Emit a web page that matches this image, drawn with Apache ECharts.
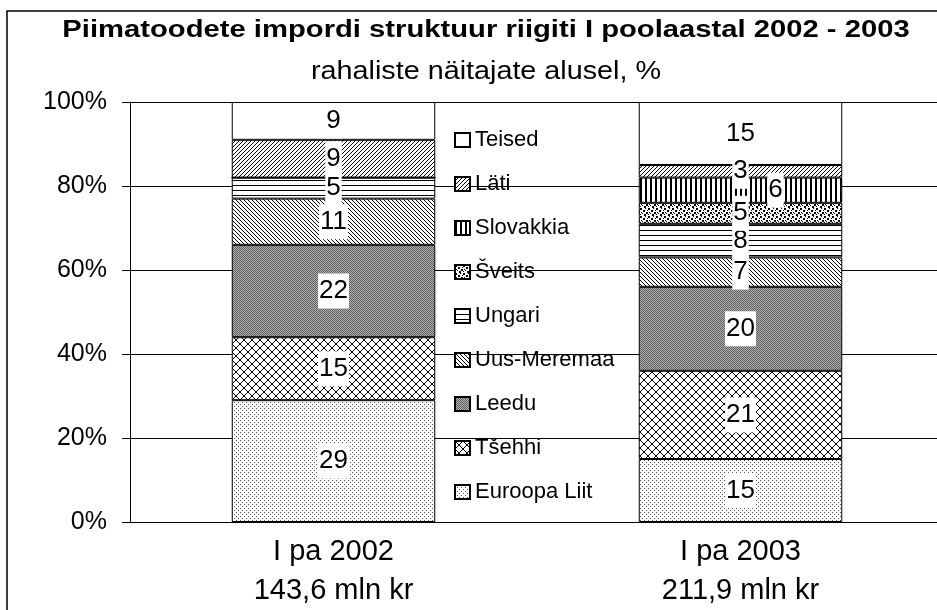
<!DOCTYPE html>
<html><head><meta charset="utf-8">
<script src="https://cdn.jsdelivr.net/npm/echarts@6/dist/echarts.min.js"></script>
<style>html,body{margin:0;padding:0;background:#fff}#c{width:937px;height:610px}</style>
</head><body><div id="c"></div>
<script>
// ---- data ----
const categories = ['I pa 2002', 'I pa 2003'];
const totals = ['143,6 mln kr', '211,9 mln kr'];
const seriesNames = ['Euroopa Liit', 'Tšehhi', 'Leedu', 'Uus-Meremaa', 'Ungari', 'Šveits', 'Slovakkia', 'Läti', 'Teised'];
const euroopaLiit = [29, 15];
const tsehhi = [15, 21];
const leedu = [22, 20];
const uusMeremaa = [11, 7];
const ungari = [5, 8];
const sveits = [0, 5];
const slovakkia = [0, 6];
const lati = [9, 3];
const teised = [9, 15];
const seriesValues = [euroopaLiit, tsehhi, leedu, uusMeremaa, ungari, sveits, slovakkia, lati, teised];
const titleText = 'Piimatoodete impordi struktuur riigiti I poolaastal 2002 - 2003';
const subtitleText = 'rahaliste näitajate alusel, %';

// ---- styles ----
const FONT = '"Liberation Sans", Arial, sans-serif';
function bitmap(rows, palette) {
  const c = document.createElement('canvas');
  c.width = rows[0].length; c.height = rows.length;
  const ctx = c.getContext('2d');
  for (let y = 0; y < rows.length; y++) {
    for (let x = 0; x < rows[y].length; x++) {
      ctx.fillStyle = palette[rows[y][x]];
      ctx.fillRect(x, y, 1, 1);
    }
  }
  return { image: c, repeat: 'repeat' };
}
const BW = { '0': '#ffffff', '1': '#000000', '2': '#888888', 'a': '#606060', 'b': '#b0b0b0', 'd': '#555555' };
const patterns = {
  'Euroopa Liit': bitmap(['d000', '0000', '00d0', '0000'], BW),
  'Tšehhi': bitmap(['10000001', '01000010', '00100100', '00011000', '00011000', '00100100', '01000010', '10000001'], BW),
  'Leedu': bitmap(['ab', 'ba'], BW),
  'Uus-Meremaa': bitmap(['1000', '0100', '0010', '0001'], BW),
  'Ungari': bitmap(['1111', '0000', '0000', '0000', '0000'], BW),
  'Šveits': bitmap(['11000100', '11000000', '00011001', '00011000', '01000011', '00100011', '10001100', '00001100'], BW),
  'Slovakkia': bitmap(['11000'], BW),
  'Läti': bitmap(['0001', '0010', '0100', '1000'], BW),
  'Teised': '#ffffff'
};
const labelOffsets = { 'Slovakkia': { 1: [35, 0] } };

const series = seriesNames.map((name, si) => ({
  name: name,
  type: 'bar',
  stack: 'total',
  barWidth: '50%',
  itemStyle: { color: patterns[name], borderColor: '#000', borderWidth: 1 },
  label: {
    show: true, position: 'inside', color: '#000', fontSize: 26, fontFamily: FONT,
    backgroundColor: '#fff', padding: [5, 1], lineHeight: 25
  },
  data: seriesValues[si].map((v, ci) => {
    const item = { value: v };
    const off = labelOffsets[name] && labelOffsets[name][ci];
    item.label = { show: v > 0 };
    if (off) item.label.offset = off;
    return item;
  })
}));

const chart = echarts.init(document.getElementById('c'), null, { renderer: 'canvas' });
chart.setOption({
  backgroundColor: '#fff',
  animation: false,
  textStyle: { fontFamily: FONT },
  graphic: [
    { type: 'rect', z: -10, shape: { x: 7, y: 11, width: 1000, height: 700 },
      style: { fill: 'none', stroke: '#000', lineWidth: 1.5 } },
    { type: 'text', x: 486, y: 31, scaleX: 1.27,
      style: { text: titleText, font: 'bold 23px ' + FONT, fill: '#000', align: 'center', verticalAlign: 'middle' } },
    { type: 'text', x: 486, y: 72, scaleX: 1.15,
      style: { text: subtitleText, font: '25px ' + FONT, fill: '#000', align: 'center', verticalAlign: 'middle' } }
  ],
  legend: {
    orient: 'vertical', left: 449, top: 123,
    data: seriesNames.slice().reverse(),
    icon: 'rect', itemWidth: 15, itemHeight: 14, itemGap: 20,
    textStyle: { fontSize: 22, fontFamily: FONT, color: '#000', lineHeight: 24 },
    selectedMode: false
  },
  grid: { left: 130, top: 102, width: 814, height: 420, containLabel: false, outerBoundsMode: 'none' },
  xAxis: {
    type: 'category', data: categories,
    axisLine: { show: true, lineStyle: { color: '#000', width: 1 } },
    axisTick: { show: false },
    axisLabel: {
      color: '#000', fontSize: 29, lineHeight: 39, margin: 10, fontFamily: FONT,
      formatter: (v, i) => v + '\n' + totals[i]
    }
  },
  yAxis: {
    type: 'value', min: 0, max: 100, interval: 20,
    axisLine: { show: true, lineStyle: { color: '#000', width: 1 } },
    axisTick: { show: true, length: 8, lineStyle: { color: '#000' } },
    splitLine: { show: true, lineStyle: { color: '#000', width: 1 } },
    axisLabel: { color: '#000', fontSize: 25, margin: 23, fontFamily: FONT, formatter: '{value}%' }
  },
  series: series
});
</script>
</body></html>
